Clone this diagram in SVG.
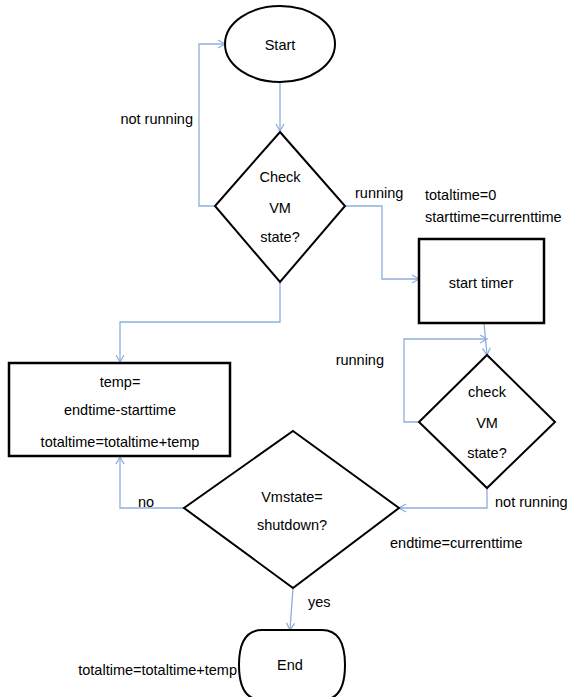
<svg xmlns="http://www.w3.org/2000/svg" width="567" height="697" viewBox="0 0 567 697">
<style>
.shape{fill:#fff;stroke:#000;stroke-width:2}
.box{fill:#fff;stroke:#000;stroke-width:2.5}
.conn{fill:none;stroke:#8eaedc;stroke-width:1.3}
text{font-family:"Liberation Sans Narrow","Liberation Sans",Arial,sans-serif;font-size:14.5px;fill:#000}
.c{text-anchor:middle}
.e{text-anchor:end}
</style>
<defs>
<marker id="arr" markerUnits="userSpaceOnUse" markerWidth="12" markerHeight="12" refX="8" refY="5" orient="auto">
<path d="M1,1 L8,5 L1,9" fill="none" stroke="#8eaedc" stroke-width="1.3"/>
</marker>
</defs>
<rect width="567" height="697" fill="#fff"/>
<g id="connectors">
<path class="conn" d="M280,82 L280,131" marker-end="url(#arr)"/>
<path class="conn" d="M215,206 L199,206 L199,44 L225,44" marker-end="url(#arr)"/>
<path class="conn" d="M345,206 L382,206 L382,279 L419,279" marker-end="url(#arr)"/>
<path class="conn" d="M484,323 L487,355" marker-start="url(#arr)" marker-end="url(#arr)"/>
<path class="conn" d="M419,422 L404,422 L404,339 L487,339" marker-end="url(#arr)"/>
<path class="conn" d="M487,488 L487,508 L399,508" marker-end="url(#arr)"/>
<path class="conn" d="M184,508 L120,508 L120,457" marker-end="url(#arr)"/>
<path class="conn" d="M280,282 L280,322 L120,322 L120,362" marker-end="url(#arr)"/>
<path class="conn" d="M293,588 L290,630" marker-end="url(#arr)"/>
<text class="e" x="193" y="124">not running</text>
<text x="355" y="198">running</text>
<text class="e" x="384" y="365">running</text>
<text x="495" y="507">not running</text>
<text x="138" y="507">no</text>
<text x="308" y="607">yes</text>
</g>
<g id="start">
<ellipse class="shape" cx="280" cy="44" rx="55" ry="38"/>
<text class="c" x="280" y="50">Start</text>
</g>
<g id="check1">
<polygon class="shape" points="280,132 345,206 280,282 215,206"/>
<text class="c" x="280" y="182">Check</text>
<text class="c" x="280" y="213">VM</text>
<text class="c" x="280" y="242">state?</text>
</g>
<g id="init-note">
<text x="425" y="200">totaltime=0</text>
<text x="425" y="222">starttime=currenttime</text>
</g>
<g id="starttimer">
<rect class="box" x="419" y="239" width="125" height="84"/>
<text class="c" x="481" y="288">start timer</text>
</g>
<g id="check2">
<polygon class="shape" points="487,355 555,422 487,488 419,422"/>
<text class="c" x="487" y="397">check</text>
<text class="c" x="487" y="428">VM</text>
<text class="c" x="487" y="458">state?</text>
</g>
<g id="temp">
<rect class="box" x="9" y="363" width="221" height="93"/>
<text class="c" x="120" y="387">temp=</text>
<text class="c" x="120" y="415">endtime-starttime</text>
<text class="c" x="120" y="447">totaltime=totaltime+temp</text>
</g>
<g id="vmstate">
<polygon class="shape" points="293,431 399,508 293,588 184,508"/>
<text class="c" x="292" y="502">Vmstate=</text>
<text class="c" x="292" y="530">shutdown?</text>
</g>
<g id="end-note">
<text x="390" y="548">endtime=currenttime</text>
</g>
<g id="end">
<path class="shape" d="M262,630 L322,630 Q345,630 345,665 Q345,700 322,700 L262,700 Q239,700 239,665 Q239,630 262,630 Z"/>
<text class="c" x="290" y="670">End</text>
<text class="e" x="237" y="675">totaltime=totaltime+temp</text>
</g>
</svg>
